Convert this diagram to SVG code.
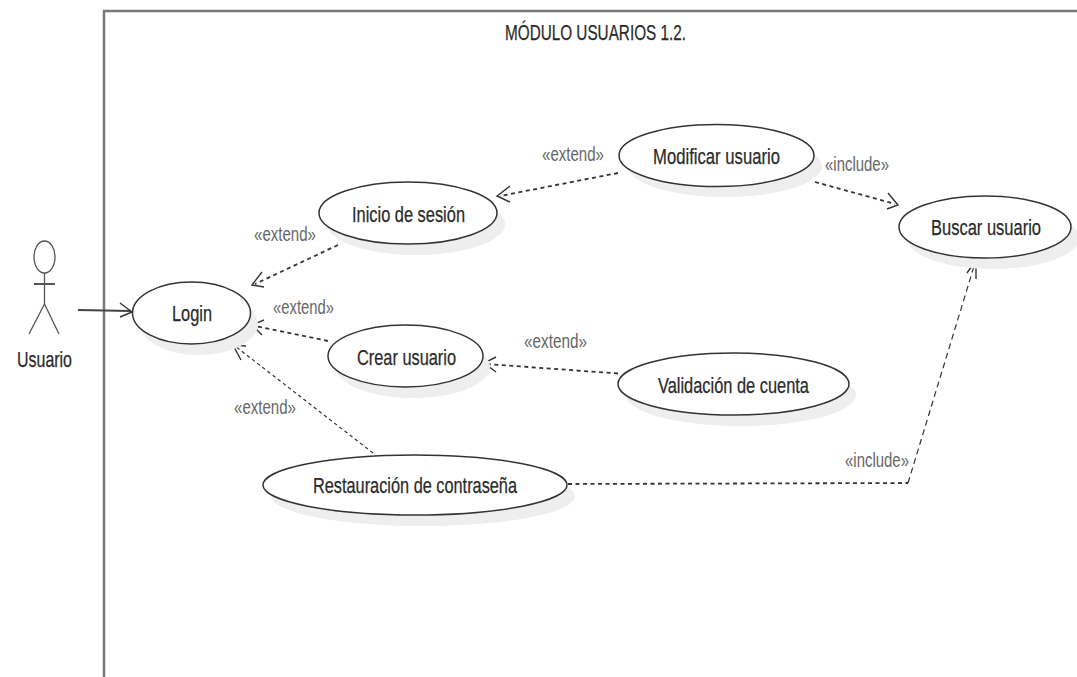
<svg xmlns="http://www.w3.org/2000/svg" width="1077" height="677" viewBox="0 0 1077 677">
<style>
text{font-family:"Liberation Sans",Arial,sans-serif}
.n{fill:#2a2a2a;font-size:22px;stroke:#2a2a2a;stroke-width:.25}
.l{fill:#666;font-size:20px}
.e{fill:#fff;stroke:#333;stroke-width:1.5}
.s{fill:#eee}
.c{fill:none;stroke:#333;stroke-width:1.800;stroke-dasharray:4 3.500}
.t{stroke-dasharray:3.500 3;stroke-width:1.200}
.h{fill:none;stroke:#333;stroke-width:1.400}
</style>
<rect width="1077" height="677" fill="#fff"/>
<g id="frame"><path d="M104 677V11H1077" fill="none" stroke="#777" stroke-width="2.500"/>
<text class="n" x="505" y="40" textLength="181" lengthAdjust="spacingAndGlyphs">MÓDULO USUARIOS 1.2.</text></g>
<g id="actor"><g fill="none" stroke="#555" stroke-width="1.300">
<ellipse cx="44.500" cy="257" rx="10.500" ry="16"/><path d="M44.500 273V304M44.500 304L29 334M44.500 304L59 334"/><path d="M34 284H55" stroke-width="2"/></g>
<text class="n" x="17" y="367" textLength="55" lengthAdjust="spacingAndGlyphs">Usuario</text></g>
<g id="connectors">
<path d="M78 310L131 311" fill="none" stroke="#444" stroke-width="1.800"/><path class="h" d="M120 303L132 312L120 317"/>
<path class="c" d="M338 245L255 284"/><path class="h" d="M262 272L252 285L264 287"/>
<path class="c" d="M618 173L500 196"/><path class="h" d="M510 186L497 196L510 202"/>
<path class="c" d="M328 341L255 326"/><path class="h" d="M264 320L252 325L262 335"/>
<path class="c" d="M618 373.500L487 364"/><path class="h" d="M496 357L484 363L496 372"/>
<path class="c t" d="M373 453L235 346"/><path class="h" d="M246 346L233 345L241 360"/>
<path class="c" d="M815 182L895 204"/><path class="h" d="M888 193L898 205L887 209"/>
<path class="c" d="M568 484L908 483"/><path class="c" style="stroke-width:1.200;stroke-dasharray:6 4" d="M908 483L975 263"/><path class="h" d="M967 273L976 260L976 279"/>
</g>
<g id="login"><ellipse class="s" cx="199" cy="324" rx="59" ry="31"/><ellipse class="e" cx="191.500" cy="313" rx="59" ry="31"/><text class="n" x="172" y="321" textLength="40" lengthAdjust="spacingAndGlyphs">Login</text></g>
<g id="inicio"><ellipse class="s" cx="416" cy="224" rx="89" ry="31"/><ellipse class="e" cx="408" cy="213" rx="89" ry="31"/><text class="n" x="352" y="222" textLength="113" lengthAdjust="spacingAndGlyphs">Inicio de sesión</text></g>
<g id="modificar"><ellipse class="s" cx="725" cy="166" rx="97" ry="31"/><ellipse class="e" cx="716.500" cy="155.500" rx="97.500" ry="31"/><text class="n" x="653" y="164" textLength="127" lengthAdjust="spacingAndGlyphs">Modificar usuario</text></g>
<g id="buscar"><ellipse class="s" cx="993" cy="238" rx="86" ry="31"/><ellipse class="e" cx="985" cy="227" rx="86" ry="31"/><text class="n" x="931" y="235" textLength="110" lengthAdjust="spacingAndGlyphs">Buscar usuario</text></g>
<g id="crear"><ellipse class="s" cx="413" cy="367" rx="77" ry="31"/><ellipse class="e" cx="405.500" cy="356" rx="77.500" ry="31"/><text class="n" x="357" y="365" textLength="99" lengthAdjust="spacingAndGlyphs">Crear usuario</text></g>
<g id="validacion"><ellipse class="s" cx="741" cy="395" rx="115" ry="31"/><ellipse class="e" cx="733.500" cy="384" rx="115.500" ry="31"/><text class="n" x="658" y="393" textLength="151" lengthAdjust="spacingAndGlyphs">Validación de cuenta</text></g>
<g id="restauracion"><ellipse class="s" cx="423" cy="496" rx="152" ry="30"/><ellipse class="e" cx="415" cy="485" rx="152" ry="30"/><text class="n" x="313" y="493" textLength="204" lengthAdjust="spacingAndGlyphs">Restauración de contraseña</text></g>
<g id="labels">
<text class="l" x="542" y="161" textLength="62" lengthAdjust="spacingAndGlyphs">«extend»</text>
<text class="l" x="825" y="171" textLength="64" lengthAdjust="spacingAndGlyphs">«include»</text>
<text class="l" x="254" y="241" textLength="62" lengthAdjust="spacingAndGlyphs">«extend»</text>
<text class="l" x="273" y="314" textLength="61" lengthAdjust="spacingAndGlyphs">«extend»</text>
<text class="l" x="524" y="348" textLength="63" lengthAdjust="spacingAndGlyphs">«extend»</text>
<text class="l" x="234" y="414" textLength="62" lengthAdjust="spacingAndGlyphs">«extend»</text>
<text class="l" x="845" y="467" textLength="64" lengthAdjust="spacingAndGlyphs">«include»</text>
</g>
</svg>
